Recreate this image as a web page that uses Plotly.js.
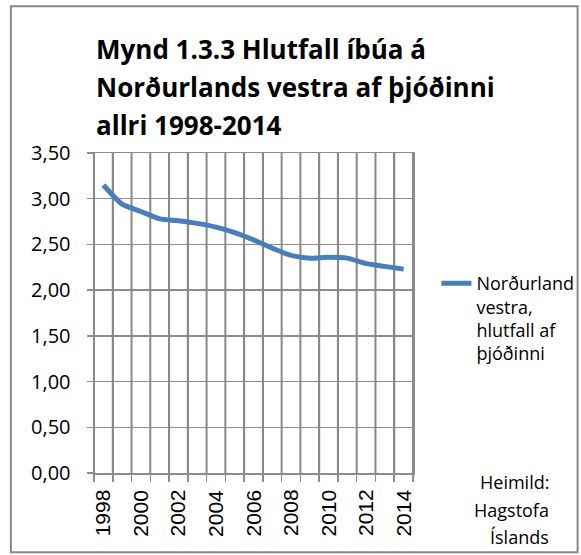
<!DOCTYPE html>
<html>
<head>
<meta charset="utf-8">
<script src="https://cdn.plot.ly/plotly-3.0.1.min.js"></script>
<style>
  html, body { margin: 0; padding: 0; background: #ffffff; }
  #chart { width: 581px; height: 555px; }
</style>
</head>
<body>
<div id="chart"></div>
<script>
// ---- data ----
var years = [1998, 1999, 2000, 2001, 2002, 2003, 2004, 2005, 2006, 2007, 2008, 2009, 2010, 2011, 2012, 2013, 2014];
var hlutfall = [3.15, 2.94, 2.86, 2.78, 2.76, 2.73, 2.69, 2.63, 2.55, 2.46, 2.38, 2.35, 2.36, 2.35, 2.29, 2.26, 2.23];
var xTickYears = [1998, 2000, 2002, 2004, 2006, 2008, 2010, 2012, 2014];
var xTickLabels = ['1998', '2000', '2002', '2004', '2006', '2008', '2010', '2012', '2014'];
var yTickVals = [0, 0.5, 1, 1.5, 2, 2.5, 3, 3.5];
var seriesName = 'Norðurland<br>vestra,<br>hlutfall af<br>þjóðinni';
var titleLines = ['Mynd 1.3.3 Hlutfall íbúa á', 'Norðurlands vestra af þjóðinni', 'allri 1998-2014'];
var sourceLines = ['Heimild:', 'Hagstofa', 'Íslands'];

// ---- layout geometry (pixels) ----
var W = 581, H = 555;
var plotL = 94, plotR = 412.6, plotT = 152.7, plotB = 473.5;
var pw = plotR - plotL, ph = plotB - plotT;
function px2x(p) { return (p - plotL) / pw; }
function py2y(p) { return (plotB - p) / ph; }

var gridCol = '#8c8c8c';
var lineCol = '#4a7ebb';
var bodyFont = 'Open Sans, sans-serif';
var xRange = [years[0] - 0.5, years[years.length - 1] + 0.5];
// year boundaries (Excel-style category gridlines between the years)
var yearBounds = [years[0] - 0.5].concat(years.map(function (y) { return y + 0.5; }));

var trace = {
  type: 'scatter',
  mode: 'lines',
  x: years,
  y: hlutfall,
  name: seriesName,
  line: { color: lineCol, width: 5, shape: 'spline', smoothing: 0.6 },
  hoverinfo: 'x+y'
};

var annotations = [];
var titleY = [48, 86.5, 125];
titleLines.forEach(function (t, i) {
  annotations.push({
    text: t, xref: 'paper', yref: 'paper',
    x: px2x(94), y: py2y(titleY[i]), xanchor: 'left', yanchor: 'middle',
    showarrow: false, align: 'left',
    font: { family: bodyFont, size: 26, color: '#000000', weight: 'bold' }
  });
});
// year labels, centred on their year
xTickYears.forEach(function (yr, i) {
  annotations.push({
    text: xTickLabels[i], xref: 'x', yref: 'paper',
    x: yr, y: py2y(488), xanchor: 'center', yanchor: 'top',
    textangle: -90, showarrow: false,
    font: { family: 'Liberation Sans, Arial, sans-serif', size: 21, color: '#000000' }
  });
});
var srcY = [483, 511, 538];
sourceLines.forEach(function (t, i) {
  annotations.push({
    text: t, xref: 'paper', yref: 'paper',
    x: px2x(550), y: py2y(srcY[i]), xanchor: 'right', yanchor: 'middle',
    showarrow: false, align: 'right',
    font: { family: bodyFont, size: 18, color: '#000000' }
  });
});

var shapes = [{
  type: 'rect', xref: 'paper', yref: 'paper', layer: 'below',
  x0: px2x(11), x1: px2x(577), y0: py2y(553), y1: py2y(5.5),
  line: { color: '#878787', width: 2 }, fillcolor: 'rgba(0,0,0,0)'
}];
yearBounds.forEach(function (b) {
  shapes.push({
    type: 'line', xref: 'x', yref: 'y', layer: 'between',
    x0: b, x1: b, y0: 0, y1: 3.5,
    line: { color: '#888888', width: 2 }
  });
});

var layout = {
  width: W, height: H,
  margin: { l: plotL, r: W - plotR, t: plotT, b: H - plotB, pad: 0, autoexpand: false },
  paper_bgcolor: '#ffffff',
  plot_bgcolor: '#ffffff',
  showlegend: true,
  legend: {
    x: px2x(436), y: py2y(265), xanchor: 'left', yanchor: 'top',
    valign: 'top',
    font: { family: bodyFont, size: 18, color: '#000000' },
    bgcolor: 'rgba(0,0,0,0)', borderwidth: 0
  },
  xaxis: {
    type: 'linear',
    range: xRange,
    tickmode: 'array',
    tickvals: yearBounds,
    ticks: 'outside', ticklen: 7, tickcolor: gridCol, tickwidth: 1.5,
    showticklabels: false,
    showgrid: true, gridcolor: gridCol, gridwidth: 1.5,
    zeroline: false,
    showline: true, linecolor: gridCol, linewidth: 1.5,
    mirror: true,
    fixedrange: true
  },
  yaxis: {
    range: [0, 3.5],
    tickmode: 'array',
    tickvals: yTickVals,
    tickformat: '.2f',
    ticks: 'outside', ticklen: 6, tickcolor: gridCol, tickwidth: 1.5,
    ticklabelstandoff: 12,
    tickfont: { family: bodyFont, size: 20, color: '#000000' },
    showgrid: true, gridcolor: gridCol, gridwidth: 1.5,
    zeroline: false,
    showline: true, linecolor: gridCol, linewidth: 1.5,
    mirror: true,
    fixedrange: true
  },
  separators: ', ',
  annotations: annotations,
  shapes: shapes
};

Plotly.newPlot('chart', [trace], layout, { displayModeBar: false, staticPlot: true });
</script>
</body>
</html>
